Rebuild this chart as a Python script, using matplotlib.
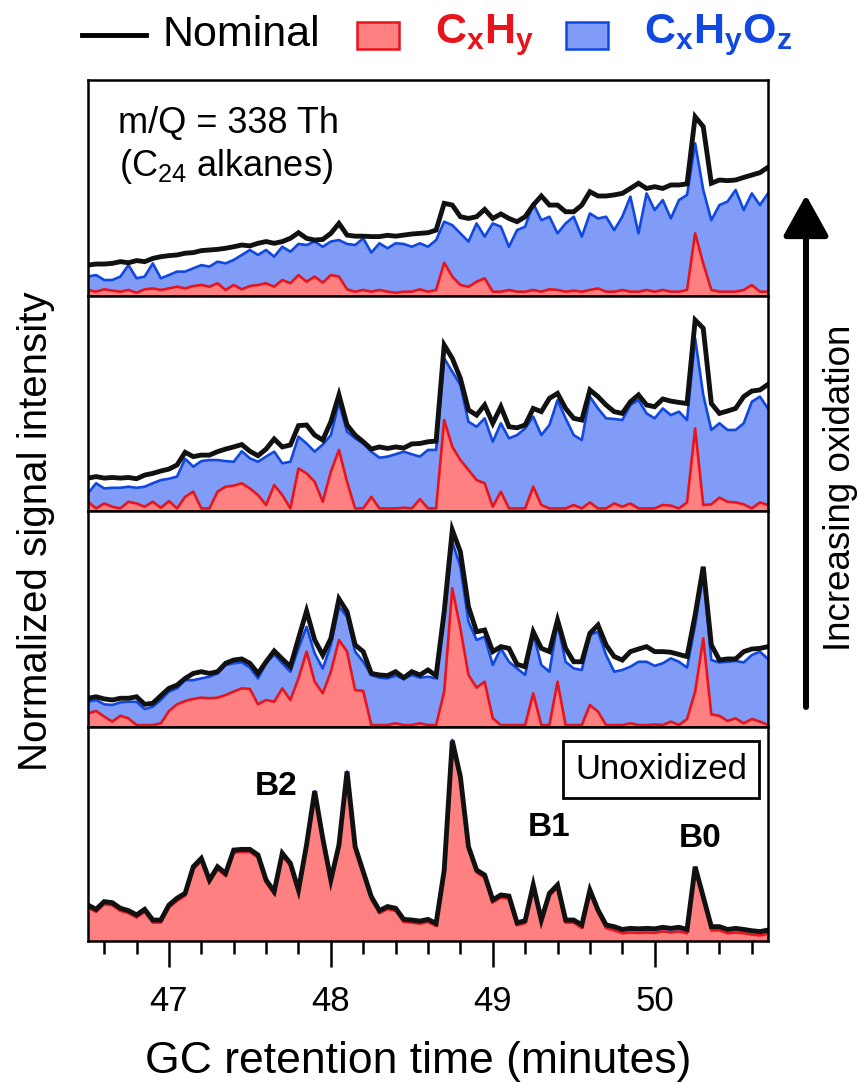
import numpy as np
import matplotlib
matplotlib.use("Agg")
import matplotlib.pyplot as plt
from matplotlib.patches import Rectangle, FancyArrowPatch
from matplotlib.lines import Line2D
from matplotlib.ticker import MultipleLocator

plt.rcParams['font.family'] = ['Liberation Sans', 'DejaVu Sans']
plt.rcParams['mathtext.fontset'] = 'custom'
plt.rcParams['mathtext.rm'] = 'Liberation Sans'
plt.rcParams['mathtext.bf'] = 'Liberation Sans:bold'
plt.rcParams['mathtext.it'] = 'Liberation Sans:italic'
plt.rcParams['mathtext.default'] = 'regular'

# retention time grid (minutes), 0.05 min spacing
rt = np.round(np.arange(46.5, 50.70001, 0.05), 2)

# --- most oxidized (top panel) ---
nominal_1 = [0.143, 0.148, 0.148, 0.151, 0.159, 0.154, 0.164, 0.159, 0.174, 0.182,
             0.187, 0.190, 0.198, 0.201, 0.210, 0.213, 0.216, 0.221, 0.228, 0.236,
             0.232, 0.244, 0.252, 0.244, 0.252, 0.267, 0.293, 0.267, 0.259, 0.262,
             0.290, 0.336, 0.282, 0.277, 0.277, 0.275, 0.275, 0.281, 0.277, 0.282,
             0.287, 0.290, 0.293, 0.305, 0.429, 0.421, 0.367, 0.359, 0.367, 0.401,
             0.359, 0.380, 0.359, 0.344, 0.367, 0.421, 0.463, 0.421, 0.421, 0.390,
             0.390, 0.421, 0.483, 0.463, 0.463, 0.468, 0.475, 0.498, 0.522, 0.498,
             0.506, 0.498, 0.514, 0.514, 0.519, 0.830, 0.784, 0.522, 0.537, 0.534,
             0.537, 0.549, 0.560, 0.571, 0.596]
total_1 = [0.090, 0.097, 0.074, 0.074, 0.090, 0.143, 0.082, 0.090, 0.151, 0.082,
           0.097, 0.113, 0.113, 0.128, 0.143, 0.136, 0.159, 0.151, 0.167, 0.190,
           0.213, 0.190, 0.213, 0.182, 0.228, 0.205, 0.241, 0.236, 0.252, 0.228,
           0.252, 0.259, 0.241, 0.236, 0.267, 0.201, 0.244, 0.221, 0.244, 0.241,
           0.228, 0.244, 0.228, 0.259, 0.344, 0.328, 0.290, 0.252, 0.336, 0.275,
           0.336, 0.321, 0.228, 0.305, 0.321, 0.429, 0.351, 0.367, 0.290, 0.336,
           0.367, 0.275, 0.382, 0.359, 0.367, 0.305, 0.367, 0.460, 0.290, 0.475,
           0.398, 0.444, 0.359, 0.444, 0.468, 0.707, 0.491, 0.351, 0.421, 0.437,
           0.491, 0.398, 0.475, 0.421, 0.475]
cxhy_1 = [0.028, 0.020, 0.031, 0.025, 0.020, 0.028, 0.015, 0.031, 0.035, 0.028,
          0.035, 0.043, 0.035, 0.046, 0.051, 0.043, 0.059, 0.028, 0.051, 0.031,
          0.046, 0.051, 0.059, 0.043, 0.074, 0.059, 0.097, 0.066, 0.090, 0.062,
          0.097, 0.090, 0.031, 0.020, 0.028, 0.020, 0.028, 0.020, 0.015, 0.020,
          0.020, 0.031, 0.020, 0.028, 0.154, 0.090, 0.051, 0.043, 0.066, 0.082,
          0.020, 0.020, 0.028, 0.020, 0.020, 0.028, 0.020, 0.031, 0.028, 0.020,
          0.025, 0.020, 0.028, 0.035, 0.020, 0.020, 0.028, 0.020, 0.020, 0.028,
          0.020, 0.028, 0.020, 0.020, 0.028, 0.290, 0.151, 0.028, 0.020, 0.020,
          0.020, 0.028, 0.051, 0.020, 0.020]

# --- second panel ---
nominal_2 = [0.153, 0.160, 0.153, 0.156, 0.153, 0.156, 0.150, 0.167, 0.175, 0.186,
             0.195, 0.214, 0.273, 0.253, 0.260, 0.260, 0.276, 0.288, 0.298, 0.309,
             0.278, 0.257, 0.288, 0.335, 0.298, 0.307, 0.397, 0.400, 0.353, 0.330,
             0.415, 0.540, 0.400, 0.353, 0.322, 0.288, 0.298, 0.291, 0.298, 0.293,
             0.312, 0.314, 0.322, 0.325, 0.772, 0.710, 0.617, 0.470, 0.446, 0.493,
             0.408, 0.485, 0.392, 0.387, 0.400, 0.477, 0.462, 0.524, 0.547, 0.477,
             0.431, 0.423, 0.563, 0.532, 0.493, 0.462, 0.454, 0.508, 0.540, 0.493,
             0.485, 0.521, 0.511, 0.505, 0.500, 0.888, 0.850, 0.500, 0.454, 0.465,
             0.477, 0.532, 0.558, 0.563, 0.589]
total_2 = [0.082, 0.129, 0.105, 0.108, 0.108, 0.113, 0.108, 0.113, 0.129, 0.144,
           0.150, 0.160, 0.243, 0.206, 0.232, 0.237, 0.237, 0.232, 0.229, 0.278,
           0.245, 0.229, 0.253, 0.276, 0.222, 0.229, 0.346, 0.314, 0.276, 0.309,
           0.353, 0.505, 0.369, 0.338, 0.314, 0.276, 0.248, 0.253, 0.264, 0.276,
           0.264, 0.253, 0.284, 0.284, 0.710, 0.648, 0.586, 0.415, 0.392, 0.431,
           0.322, 0.408, 0.338, 0.353, 0.384, 0.439, 0.353, 0.400, 0.516, 0.431,
           0.353, 0.330, 0.532, 0.477, 0.431, 0.428, 0.423, 0.493, 0.516, 0.454,
           0.431, 0.477, 0.446, 0.462, 0.423, 0.803, 0.540, 0.377, 0.408, 0.377,
           0.377, 0.408, 0.508, 0.532, 0.477]
cxhy_2 = [0.043, 0.012, 0.035, 0.020, 0.012, 0.043, 0.035, 0.020, 0.043, 0.015,
          0.046, 0.012, 0.066, 0.090, 0.012, 0.012, 0.090, 0.113, 0.118, 0.129,
          0.105, 0.074, 0.028, 0.121, 0.074, 0.012, 0.198, 0.175, 0.136, 0.043,
          0.183, 0.284, 0.136, 0.012, 0.012, 0.066, 0.012, 0.012, 0.012, 0.015,
          0.012, 0.055, 0.012, 0.012, 0.423, 0.299, 0.237, 0.191, 0.144, 0.129,
          0.020, 0.090, 0.012, 0.012, 0.012, 0.113, 0.028, 0.012, 0.012, 0.012,
          0.028, 0.012, 0.040, 0.012, 0.012, 0.035, 0.020, 0.035, 0.012, 0.012,
          0.012, 0.028, 0.025, 0.012, 0.040, 0.384, 0.028, 0.031, 0.062, 0.043,
          0.040, 0.031, 0.012, 0.040, 0.028]

# --- third panel ---
nominal_3 = [0.133, 0.140, 0.130, 0.125, 0.133, 0.133, 0.140, 0.105, 0.110, 0.145,
             0.179, 0.194, 0.225, 0.248, 0.256, 0.248, 0.256, 0.295, 0.310, 0.315,
             0.295, 0.248, 0.302, 0.352, 0.315, 0.279, 0.410, 0.537, 0.403, 0.333,
             0.410, 0.593, 0.534, 0.380, 0.349, 0.248, 0.241, 0.238, 0.256, 0.228,
             0.256, 0.241, 0.264, 0.238, 0.534, 0.912, 0.811, 0.557, 0.441, 0.449,
             0.349, 0.372, 0.364, 0.290, 0.279, 0.441, 0.364, 0.349, 0.495, 0.364,
             0.302, 0.302, 0.434, 0.472, 0.380, 0.326, 0.310, 0.349, 0.361, 0.372,
             0.349, 0.349, 0.346, 0.336, 0.326, 0.519, 0.742, 0.380, 0.310, 0.315,
             0.315, 0.349, 0.361, 0.364, 0.372]
total_3 = [0.117, 0.125, 0.105, 0.102, 0.114, 0.117, 0.117, 0.083, 0.094, 0.125,
           0.164, 0.179, 0.217, 0.217, 0.225, 0.233, 0.248, 0.287, 0.295, 0.299,
           0.275, 0.225, 0.295, 0.336, 0.295, 0.256, 0.364, 0.464, 0.341, 0.271,
           0.380, 0.557, 0.511, 0.349, 0.302, 0.240, 0.228, 0.225, 0.238, 0.222,
           0.241, 0.228, 0.233, 0.225, 0.503, 0.858, 0.742, 0.488, 0.403, 0.418,
           0.287, 0.364, 0.302, 0.271, 0.241, 0.434, 0.287, 0.256, 0.480, 0.302,
           0.271, 0.264, 0.426, 0.441, 0.333, 0.256, 0.264, 0.279, 0.302, 0.302,
           0.283, 0.295, 0.318, 0.302, 0.275, 0.472, 0.711, 0.310, 0.299, 0.302,
           0.306, 0.299, 0.333, 0.349, 0.315]
cxhy_3 = [0.063, 0.074, 0.048, 0.025, 0.052, 0.040, 0.009, 0.009, 0.009, 0.017,
          0.074, 0.105, 0.120, 0.130, 0.136, 0.133, 0.136, 0.148, 0.164, 0.179,
          0.176, 0.105, 0.125, 0.117, 0.179, 0.125, 0.225, 0.349, 0.210, 0.156,
          0.256, 0.403, 0.349, 0.171, 0.167, 0.009, 0.009, 0.009, 0.017, 0.009,
          0.009, 0.017, 0.009, 0.009, 0.164, 0.642, 0.457, 0.241, 0.182, 0.210,
          0.040, 0.009, 0.009, 0.009, 0.009, 0.156, 0.009, 0.009, 0.210, 0.009,
          0.009, 0.009, 0.102, 0.071, 0.009, 0.009, 0.009, 0.017, 0.009, 0.009,
          0.012, 0.009, 0.025, 0.009, 0.037, 0.164, 0.410, 0.058, 0.052, 0.028,
          0.040, 0.017, 0.037, 0.025, 0.009]

# --- unoxidized (bottom panel) ---
nominal_4 = [0.168, 0.148, 0.184, 0.179, 0.153, 0.142, 0.122, 0.148, 0.098, 0.098,
             0.168, 0.200, 0.223, 0.347, 0.386, 0.285, 0.347, 0.316, 0.425, 0.428,
             0.428, 0.402, 0.285, 0.231, 0.410, 0.363, 0.238, 0.450, 0.700, 0.480,
             0.285, 0.449, 0.792, 0.441, 0.324, 0.207, 0.142, 0.161, 0.153, 0.101,
             0.098, 0.093, 0.101, 0.082, 0.330, 0.936, 0.768, 0.441, 0.332, 0.308,
             0.192, 0.215, 0.210, 0.085, 0.095, 0.262, 0.098, 0.223, 0.262, 0.098,
             0.098, 0.075, 0.238, 0.145, 0.075, 0.067, 0.054, 0.059, 0.057, 0.059,
             0.057, 0.064, 0.059, 0.064, 0.054, 0.347, 0.207, 0.067, 0.067, 0.054,
             0.059, 0.054, 0.048, 0.044, 0.051]
total_4 = [0.164, 0.144, 0.180, 0.175, 0.149, 0.138, 0.118, 0.144, 0.094, 0.094,
           0.164, 0.196, 0.219, 0.343, 0.382, 0.281, 0.343, 0.312, 0.425, 0.430,
           0.428, 0.398, 0.281, 0.227, 0.406, 0.359, 0.234, 0.448, 0.700, 0.476,
           0.281, 0.445, 0.792, 0.437, 0.320, 0.203, 0.138, 0.157, 0.149, 0.097,
           0.094, 0.089, 0.097, 0.078, 0.326, 0.940, 0.764, 0.437, 0.328, 0.308,
           0.188, 0.211, 0.206, 0.081, 0.091, 0.258, 0.094, 0.219, 0.262, 0.094,
           0.094, 0.071, 0.234, 0.141, 0.071, 0.063, 0.050, 0.054, 0.053, 0.055,
           0.053, 0.060, 0.055, 0.060, 0.050, 0.343, 0.203, 0.063, 0.063, 0.050,
           0.055, 0.050, 0.044, 0.040, 0.047]
cxhy_4 = [0.156, 0.136, 0.172, 0.167, 0.141, 0.130, 0.110, 0.136, 0.086, 0.086,
          0.156, 0.188, 0.211, 0.335, 0.374, 0.273, 0.335, 0.304, 0.413, 0.416,
          0.416, 0.390, 0.273, 0.219, 0.398, 0.351, 0.226, 0.440, 0.694, 0.468,
          0.273, 0.437, 0.784, 0.429, 0.312, 0.195, 0.130, 0.149, 0.141, 0.089,
          0.086, 0.081, 0.089, 0.070, 0.318, 0.926, 0.756, 0.429, 0.320, 0.296,
          0.180, 0.203, 0.198, 0.073, 0.083, 0.250, 0.086, 0.211, 0.250, 0.086,
          0.086, 0.060, 0.226, 0.133, 0.060, 0.050, 0.036, 0.040, 0.038, 0.040,
          0.038, 0.045, 0.040, 0.045, 0.036, 0.335, 0.195, 0.050, 0.050, 0.036,
          0.040, 0.036, 0.030, 0.026, 0.034]

panels = [(nominal_1, total_1, cxhy_1),
          (nominal_2, total_2, cxhy_2),
          (nominal_3, total_3, cxhy_3),
          (nominal_4, total_4, cxhy_4)]

RED_FILL = '#ff8080'
RED_LINE = '#e8141c'
BLUE_FILL = '#809cf7'
BLUE_LINE = '#1048e0'

W, H = 860, 1082
fig = plt.figure(figsize=(W / 100, H / 100), dpi=100)

# panel edges in pixels from the top
edges = [80, 296, 511, 727, 941]
left, right = 88, 768

axes = []
for i, (nom, tot, red) in enumerate(panels):
    top, bot = edges[i], edges[i + 1]
    ax = fig.add_axes([left / W, 1 - bot / H, (right - left) / W, (bot - top) / H])
    ax.fill_between(rt, 0, tot, color=BLUE_FILL, lw=0)
    ax.plot(rt, tot, color=BLUE_LINE, lw=1.9)
    ax.fill_between(rt, 0, red, color=RED_FILL, lw=0)
    ax.plot(rt, red, color=RED_LINE, lw=1.9)
    ax.plot(rt, nom, color='#111111', lw=3.5, solid_joinstyle='miter')
    ax.set_xlim(46.5, 50.7)
    ax.set_ylim(0, 1)
    ax.set_yticks([])
    for s in ax.spines.values():
        s.set_linewidth(1.8)
    if i < 3:
        ax.set_xticks([])
    axes.append(ax)

ax4 = axes[-1]
ax4.xaxis.set_major_locator(MultipleLocator(1))
ax4.xaxis.set_minor_locator(MultipleLocator(0.2))
ax4.tick_params(axis='x', which='major', direction='out', length=19, width=1.8,
                labelsize=25, pad=13)
ax4.tick_params(axis='x', which='minor', direction='out', length=9.5, width=1.8)

# annotations
axes[0].text(46.685, 0.80, 'm/Q = 338 Th', fontsize=26, ha='left', va='center')
axes[0].text(46.69, 0.60, '(C$_{24}$ alkanes)', fontsize=26, ha='left', va='center')

ax4.text(50.04, 0.80, 'Unoxidized', fontsize=25, ha='center', va='center',
         bbox=dict(boxstyle='square,pad=0.35', fc='white', ec='black', lw=2))
ax4.text(47.66, 0.72, 'B2', fontsize=24, fontweight='bold', ha='center', va='center')
ax4.text(49.35, 0.53, 'B1', fontsize=24, fontweight='bold', ha='center', va='center')
ax4.text(50.28, 0.48, 'B0', fontsize=24, fontweight='bold', ha='center', va='center')

# axis titles
fig.text(418 / W, 1 - 1073 / H, 'GC retention time (minutes)', fontsize=32,
         ha='center', va='baseline')
fig.text(36 / W, 1 - 531 / H, 'Normalized signal intensity', fontsize=29,
         rotation=90, ha='center', va='center')

# oxidation arrow on the right
arrow = FancyArrowPatch((806 / W, 1 - 707 / H), (806 / W, 1 - 195 / H),
                        transform=fig.transFigure,
                        arrowstyle='-|>,head_length=0.9,head_width=0.5',
                        mutation_scale=28, lw=4.3, color='black',
                        shrinkA=0, shrinkB=0)
fig.add_artist(arrow)
fig.text(840 / W, 1 - 488 / H, 'Increasing oxidation', fontsize=26.5,
         rotation=90, ha='center', va='center')

# legend row across the top
ly = 1 - 35 / H
fig.add_artist(Line2D([82 / W, 146 / W], [ly, ly], color='black', lw=3.5,
                      transform=fig.transFigure))
fig.text(162 / W, ly, 'Nominal', fontsize=31, ha='left', va='center')
fig.add_artist(Rectangle((357 / W, 1 - 49 / H), 42 / W, 27 / H,
                         transform=fig.transFigure, fc=RED_FILL, ec=RED_LINE, lw=1.8))
fig.text(435 / W, ly, r'C$_\mathbf{x}$H$_\mathbf{y}$', fontsize=31,
         fontweight='bold', color=RED_LINE, ha='left', va='center')
fig.add_artist(Rectangle((566 / W, 1 - 49 / H), 42 / W, 27 / H,
                         transform=fig.transFigure, fc=BLUE_FILL, ec=BLUE_LINE, lw=1.8))
fig.text(644 / W, ly, r'C$_\mathbf{x}$H$_\mathbf{y}$O$_\mathbf{z}$', fontsize=31,
         fontweight='bold', color=BLUE_LINE, ha='left', va='center')

fig.savefig('out.png', dpi=100)
